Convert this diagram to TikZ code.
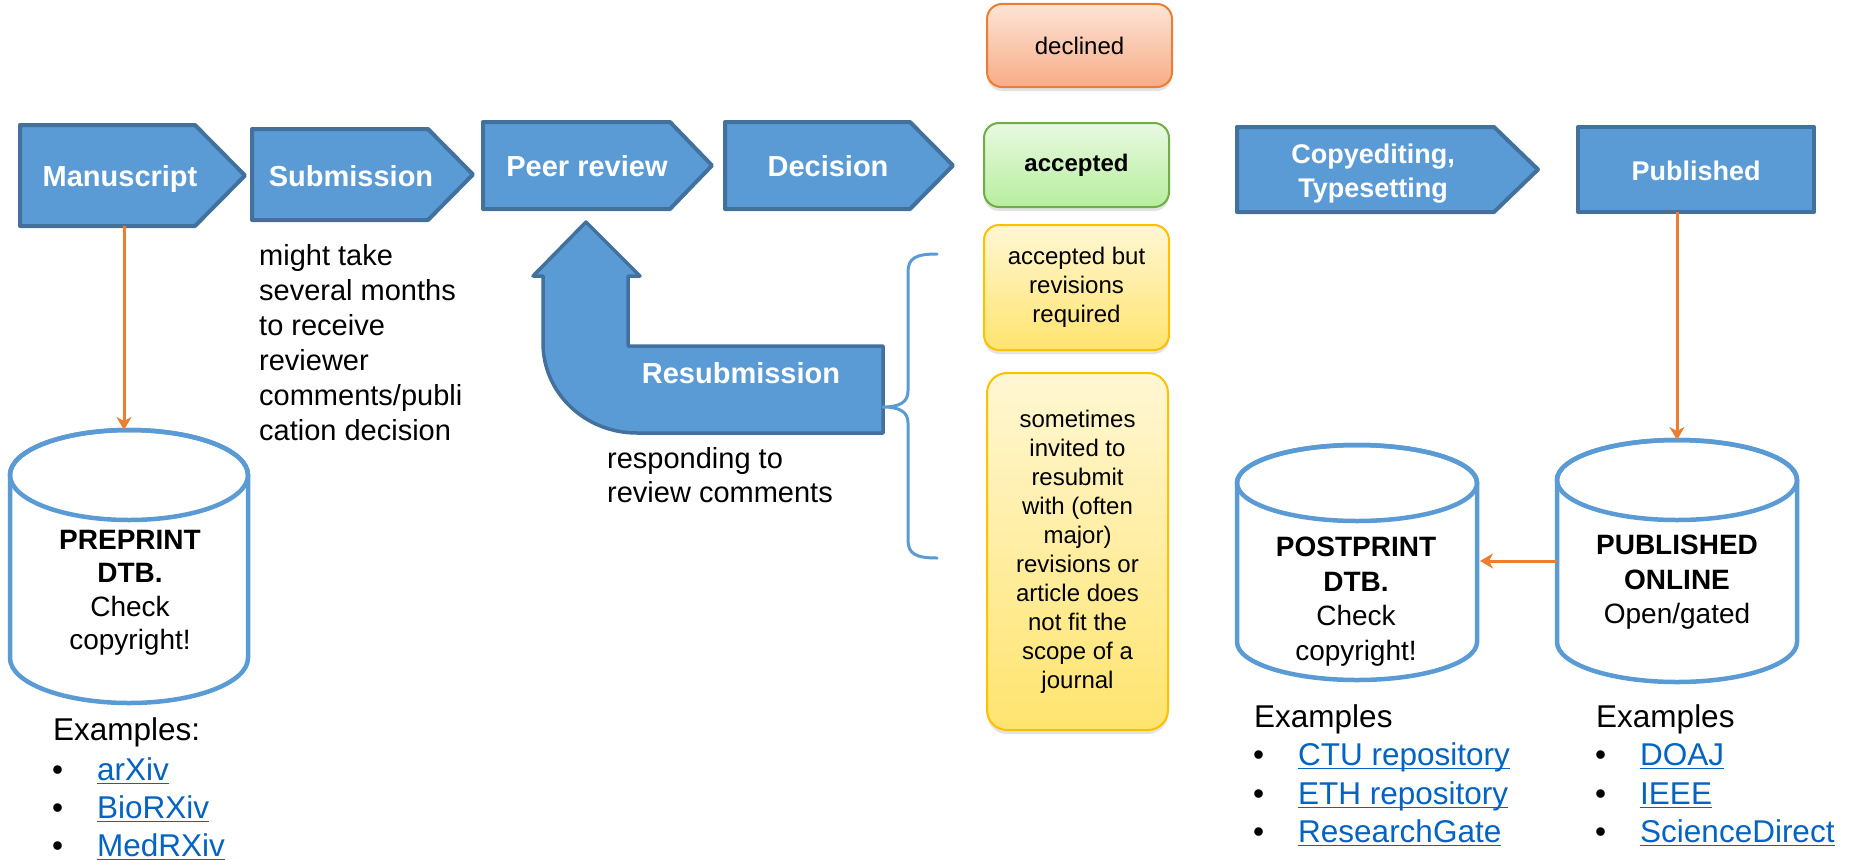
\documentclass[tikz,border=0pt]{standalone}
\usepackage{fontspec}
\setmainfont{Liberation Sans}
\usetikzlibrary{arrows.meta,shadows,calc}
\definecolor{cblue}{RGB}{91,155,213}
\definecolor{cdark}{RGB}{65,113,156}
\definecolor{corange}{RGB}{237,125,49}
\definecolor{clink}{RGB}{5,99,193}
\definecolor{decTop}{RGB}{252,228,214}
\definecolor{decBot}{RGB}{248,172,135}
\definecolor{accTop}{RGB}{232,249,225}
\definecolor{accBot}{RGB}{183,238,158}
\definecolor{yelTop}{RGB}{255,247,212}
\definecolor{yelBot}{RGB}{255,228,110}
\definecolor{cgreen}{RGB}{112,173,71}
\definecolor{cyellow}{RGB}{255,192,0}
\newcommand\fsz[2]{\fontsize{#1}{#2}\selectfont}
\newcommand\lnk[1]{\textcolor{clink}{\setbox0=\hbox{#1}\rlap{\rule[-0.14em]{\wd0}{0.055em}}\box0}}
\newcommand\lbul{\makebox[45pt][l]{\textbullet}}
\tikzset{
  chevshape/.style={fill=cblue, draw=cdark, line width=4pt, line join=round},
  chevtext/.style={text=white, font=\fsz{29}{33}\bfseries, inner sep=0pt, anchor=base},
  cylshape/.style={fill=white, draw=cblue, line width=4.5pt},
  cyltext/.style={font=\fsz{28}{34.5}, align=center, inner sep=0pt, anchor=north},
  oarrow/.style={draw=corange, line width=3pt, -{Stealth[length=13pt,width=15pt,inset=4pt]}},
  decbox/.style={rounded corners=15pt, line width=2pt, inner sep=0pt, align=center, font=\fsz{24}{29},
     drop shadow={opacity=0.22, shadow xshift=0pt, shadow yshift=-4pt}},
  invis/.style={inner sep=0pt, outer sep=0pt, draw=none, fill=none},
  listtext/.style={font=\fsz{31.5}{38}, inner sep=0pt, anchor=base west},
  notetext/.style={font=\fsz{29}{35}, align=left, inner sep=0pt, anchor=north west},
  bracestyle/.style={draw=cblue, line width=3pt, line cap=round, line join=round},
}
% chevron: name, x1, xpoint, xtip, ytop, ybottom
\newcommand\mkchev[6]{%
  \path[chevshape] (#2,#5) -- (#3,#5) -- (#4,{(#5+#6)/2}) -- (#3,#6) -- (#2,#6) -- cycle;
  \node[invis, minimum width={(#3-#2)*1pt}, minimum height={(#6-#5)*1pt}] (#1) at ({(#2+#3)/2},{(#5+#6)/2}) {};
}
% cylinder: name, cx, top, bottom, rx, ry
\newcommand\mkcyl[6]{%
  \path[cylshape] (#2-#5,#3+#6) -- (#2-#5,#4-#6) arc[start angle=180, end angle=360, x radius=#5pt, y radius=#6pt]
     -- (#2+#5,#3+#6) arc[start angle=0, end angle=180, x radius=#5pt, y radius=#6pt] -- cycle;
  \draw[cylshape, fill=none] (#2,#3+#6) ellipse[x radius=#5pt, y radius=#6pt];
  \node[invis, minimum width={2*#5pt}, minimum height={(#4-#3)*1pt}] (#1) at (#2,{(#3+#4)/2}) {};
}
\begin{document}
\begin{tikzpicture}[x=1pt,y=-1pt]
\fill[white] (0,0) rectangle (1851,859);
\useasboundingbox (0,0) rectangle (1851,859);

% process chevrons
\mkchev{manb}{20}{195}{245}{125}{226}
\mkchev{subb}{252}{428}{473}{129}{220}
\mkchev{peerb}{483}{670}{712}{122}{209}
\mkchev{decb}{725}{910}{953}{122}{209}
\mkchev{copyb}{1237}{1494}{1538}{127}{212}
\path[chevshape] (1578,127) rectangle (1814,212);
\node[invis, minimum width=236pt, minimum height=85pt] (pubb) at (1696,169.5) {};

\node[chevtext] (mant) at (120,186) {Manuscript};
\node[chevtext] (subt) at (351,186) {Submission};
\node[chevtext] (peert) at (587,176) {Peer review};
\node[chevtext] (dect) at (828,176) {Decision};
\node[chevtext, font=\fsz{27}{34}\bfseries, align=center, anchor=north] (copyt) at (1373,143.5) {Copyediting,\\Typesetting};
\node[chevtext, font=\fsz{27}{34}\bfseries] (pubt) at (1696,180) {Published};

% resubmission arrow
\path[chevshape, line width=3.5pt] (586,222) -- (640,276) -- (628,276) -- (628,346) -- (883,346) -- (883,433)
  -- (637,433) .. controls (585,433) and (543,393) .. (543,343) -- (543,276) -- (533,276) -- cycle;
\node[chevtext] (resubt) at (741,383) {Resubmission};

% brace
\path[bracestyle] (937,254) .. controls (916,254) and (908,258) .. (908,272) -- (908,391)
  .. controls (908,402) and (900,407) .. (883,407) .. controls (900,407) and (908,412) .. (908,423)
  -- (908,540) .. controls (908,554) and (916,558) .. (937,558);

% notes
\node[notetext] (waitt) at (259,244) {might take\\several months\\to receive\\reviewer\\comments/publi\\cation decision};
\node[notetext, font=\fsz{29}{34}] (respt) at (607,447) {responding to\\review comments};

% decision outcomes
\node[decbox, draw=corange, top color=decTop, bottom color=decBot, minimum width=185pt, minimum height=83pt] (decl) at (1079.5,45.5) {declined};
\node[decbox, draw=cgreen, top color=accTop, bottom color=accBot, minimum width=185pt, minimum height=84pt, font=\fsz{24}{29}\bfseries] (acc) at (1076.5,165) {accepted};
\node[decbox, draw=cyellow, top color=yelTop, bottom color=yelBot, minimum width=185pt, minimum height=125pt] (accrev) at (1076.5,287.5) {accepted but\\revisions\\required};
\node[decbox, draw=cyellow, top color=yelTop, bottom color=yelBot, minimum width=181pt, minimum height=357pt, rounded corners=20pt] (invited) at (1077.5,551.5) {sometimes\\invited to\\resubmit\\with (often\\major)\\revisions or\\article does\\not fit the\\scope of a\\journal};

% databases
\mkcyl{pre}{129}{430}{703}{119}{45}
\mkcyl{post}{1357}{445}{680}{120}{38}
\mkcyl{onl}{1677}{440}{682}{120}{40}

\node[cyltext, font=\fsz{28}{33.5}] (pret) at (130,530) {\textbf{PREPRINT}\\\textbf{DTB.}\\Check\\copyright!};
\node[cyltext] (postt) at (1356,537) {\textbf{POSTPRINT}\\\textbf{DTB.}\\Check\\copyright!};
\node[cyltext] (onlt) at (1677,535) {\textbf{PUBLISHED}\\\textbf{ONLINE}\\Open/gated};

% connectors
\coordinate (preIn) at ([xshift=-5pt]pre.north);
\draw[oarrow] (preIn |- manb.south) -- (preIn);
\draw[oarrow] (onl.north |- pubb.south) -- (onl.north);
\draw[oarrow, shorten >=3pt] (onl.west) -- (onl.west -| post.east);

% example lists
\node[listtext] (ex1) at (53,740) {Examples:};
\node[listtext] (ex1a) at (52,780) {\lbul\lnk{arXiv}};
\node[listtext] (ex1b) at (52,818) {\lbul\lnk{BioRXiv}};
\node[listtext] (ex1c) at (52,856) {\lbul\lnk{MedRXiv}};

\node[listtext] (ex2) at (1254,727) {Examples};
\node[listtext] (ex2a) at (1253,765) {\lbul\lnk{CTU repository}};
\node[listtext] (ex2b) at (1253,804) {\lbul\lnk{ETH repository}};
\node[listtext] (ex2c) at (1253,842) {\lbul\lnk{ResearchGate}};

\node[listtext] (ex3) at (1596,727) {Examples};
\node[listtext] (ex3a) at (1595,765) {\lbul\lnk{DOAJ}};
\node[listtext] (ex3b) at (1595,804) {\lbul\lnk{IEEE}};
\node[listtext] (ex3c) at (1595,842) {\lbul\lnk{ScienceDirect}};
\end{tikzpicture}
\end{document}
